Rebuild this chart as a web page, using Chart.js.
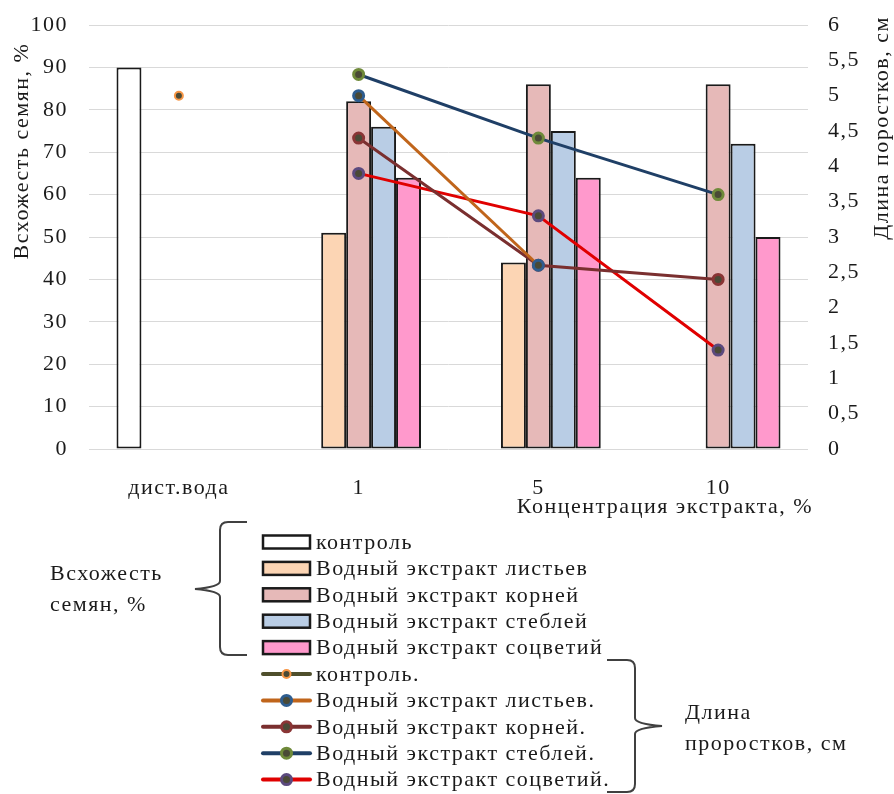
<!DOCTYPE html>
<html lang="ru">
<head>
<meta charset="utf-8">
<title>Всхожесть семян и длина проростков</title>
<script src="https://cdn.jsdelivr.net/npm/chart.js@4/dist/chart.umd.min.js"></script>
<style>
  html, body { margin: 0; padding: 0; background: #ffffff; }
  #wrap { width: 894px; height: 794px; position: relative; }
</style>
</head>
<body>
<div id="wrap"><canvas id="chart" width="894" height="794"></canvas></div>
<script>
// Categories (extract concentration)
const categories = ['дист.вода', '1', '5', '10'];

// Seed germination, % (left axis)
const germControl = [90, null, null, null];
const germLeaves  = [null, 51, 44, null];
const germRoots   = [null, 82, 86, 86];
const germStems   = [null, 76, 75, 72];
const germFlowers = [null, 64, 64, 50];

// Sprout length, cm (right axis)
const lenControl = [5.0, null, null, null];
const lenLeaves  = [null, 5.0, 2.6, null];
const lenRoots   = [null, 4.4, 2.6, 2.4];
const lenStems   = [null, 5.3, 4.4, 3.6];
const lenFlowers = [null, 3.9, 3.3, 1.4];

// Axis ranges
const germTicks = { min: 0, max: 100, step: 10 };
const lenTicks  = { min: 0, max: 6, step: 0.5 };

const FONT = '"Liberation Serif", "Times New Roman", serif';
const FONT_SIZE = 22;
const SPACING = '1.5px';
const TEXT = '#1a1a1a';
const DOT  = '#4a4a36';

function barSet(label, data, fill) {
  return {
    type: 'bar', label, data, yAxisID: 'yL', order: 10,
    backgroundColor: fill, borderColor: '#1a1a1a', borderWidth: 2,
    borderSkipped: false
  };
}
function lineSet(label, data, line, ring, r) {
  return {
    type: 'line', label, data, yAxisID: 'yR', order: 1,
    borderColor: line, borderWidth: 3, backgroundColor: DOT,
    pointBackgroundColor: DOT, pointBorderColor: ring,
    pointBorderWidth: r < 5 ? 2 : 3, pointRadius: r, pointHoverRadius: r,
    tension: 0, spanGaps: false, fill: false
  };
}

const datasets = [
  barSet('контроль', germControl, '#ffffff'),
  barSet('Водный экстракт листьев', germLeaves, '#fcd5b4'),
  barSet('Водный экстракт корней', germRoots, '#e6b9b8'),
  barSet('Водный экстракт стеблей', germStems, '#b9cde5'),
  barSet('Водный экстракт соцветий', germFlowers, '#ff99cc'),
  lineSet('контроль.', lenControl, '#4f4f2c', '#f79646', 4),
  lineSet('Водный экстракт листьев.', lenLeaves, '#c0651b', '#2e5d8f', 5),
  lineSet('Водный экстракт корней.', lenRoots, '#7a2f2f', '#8a3535', 5),
  lineSet('Водный экстракт стеблей.', lenStems, '#1f3f66', '#6f8a3a', 5),
  lineSet('Водный экстракт соцветий.', lenFlowers, '#e00000', '#5b4a7e', 5)
];

// Curly brace: xEdge = open ends, xSpine = vertical stroke, xTip = point
function brace(ctx, xEdge, xSpine, xTip, yTop, yMid, yBot) {
  const r = 8;
  const s = Math.sign(xEdge - xSpine);
  ctx.beginPath();
  ctx.moveTo(xEdge, yTop);
  ctx.lineTo(xSpine + s * r, yTop);
  ctx.quadraticCurveTo(xSpine, yTop, xSpine, yTop + r);
  ctx.lineTo(xSpine, yMid - r);
  ctx.quadraticCurveTo(xSpine, yMid - 2, xTip, yMid);
  ctx.quadraticCurveTo(xSpine, yMid + 2, xSpine, yMid + r);
  ctx.lineTo(xSpine, yBot - r);
  ctx.quadraticCurveTo(xSpine, yBot, xSpine + s * r, yBot);
  ctx.lineTo(xEdge, yBot);
  ctx.stroke();
}

// Wider letter spacing for every text drawn on the canvas
const spacing = {
  id: 'spacing',
  beforeInit(chart) { chart.ctx.letterSpacing = SPACING; },
  beforeDraw(chart) { chart.ctx.letterSpacing = SPACING; }
};

const decorations = {
  id: 'decorations',
  afterDraw(chart) {
    const ctx = chart.ctx;
    ctx.save();
    ctx.letterSpacing = SPACING;
    ctx.fillStyle = TEXT;
    ctx.font = FONT_SIZE + 'px ' + FONT;
    ctx.textBaseline = 'middle';

    // Left axis title, bottom-to-top
    ctx.save();
    ctx.translate(22, 151);
    ctx.rotate(-Math.PI / 2);
    ctx.textAlign = 'center';
    ctx.fillText('Всхожесть семян, %', 0, 0);
    ctx.restore();

    // Right axis title, bottom-to-top
    ctx.save();
    ctx.translate(882, 128);
    ctx.rotate(-Math.PI / 2);
    ctx.textAlign = 'center';
    ctx.fillText('Длина поростков, см', 0, 0);
    ctx.restore();

    // X axis title
    ctx.textAlign = 'center';
    ctx.fillText('Концентрация экстракта, %', 665, 507);

    // Legend
    const x0 = 263, x1 = 310, tx = 316, y0 = 542, dy = 26.4;
    chart.data.datasets.forEach((ds, i) => {
      const y = y0 + i * dy;
      if (ds.type === 'bar') {
        ctx.fillStyle = ds.backgroundColor;
        ctx.fillRect(x0, y - 6.5, x1 - x0, 13);
        ctx.strokeStyle = '#1a1a1a';
        ctx.lineWidth = 2.5;
        ctx.strokeRect(x0, y - 6.5, x1 - x0, 13);
      } else {
        ctx.strokeStyle = ds.borderColor;
        ctx.lineWidth = 4;
        ctx.lineCap = 'round';
        ctx.beginPath();
        ctx.moveTo(x0, y);
        ctx.lineTo(x1, y);
        ctx.stroke();
        ctx.lineCap = 'butt';
        ctx.beginPath();
        ctx.arc((x0 + x1) / 2, y, ds.pointRadius, 0, Math.PI * 2);
        ctx.fillStyle = ds.pointBackgroundColor;
        ctx.fill();
        ctx.lineWidth = ds.pointBorderWidth;
        ctx.strokeStyle = ds.pointBorderColor;
        ctx.stroke();
      }
      ctx.fillStyle = TEXT;
      ctx.textAlign = 'left';
      ctx.fillText(ds.label, tx, y + 1);
    });

    // Group braces and captions
    ctx.strokeStyle = '#404040';
    ctx.lineWidth = 2;
    brace(ctx, 247, 220, 195, 522, 589, 655);
    brace(ctx, 607, 635, 662, 660, 726, 792);

    ctx.fillStyle = TEXT;
    ctx.textAlign = 'left';
    ctx.fillText('Всхожесть', 50, 574);
    ctx.fillText('семян, %', 50, 605);
    ctx.fillText('Длина', 685, 713);
    ctx.fillText('проростков, см', 685, 744);
    ctx.restore();
  }
};

const tickFont = { family: FONT, size: FONT_SIZE };

// Fixed axis box sizes so the plot area sits at 89..808 x 25..449
function fixVertical(width) {
  return scale => {
    scale.width = width;
    scale.paddingTop = 0;
    scale.paddingBottom = 0;
  };
}

new Chart(document.getElementById('chart'), {
  type: 'bar',
  data: { labels: categories, datasets },
  plugins: [spacing, decorations],
  options: {
    responsive: false,
    animation: false,
    events: [],
    layout: { padding: { top: 25, left: 0, right: 0, bottom: 0 } },
    datasets: {
      bar: { categoryPercentage: 0.694, barPercentage: 1.0 }
    },
    plugins: {
      legend: { display: false },
      tooltip: { enabled: false },
      title: { display: false }
    },
    scales: {
      x: {
        grid: { display: false, drawTicks: false },
        border: { display: false },
        ticks: { font: tickFont, color: TEXT, padding: 26, maxRotation: 0 },
        afterFit(scale) {
          scale.height = 345;
          scale.paddingLeft = 0;
          scale.paddingRight = 0;
        }
      },
      yL: {
        position: 'left',
        min: germTicks.min, max: germTicks.max,
        grid: { color: '#d9d9d9', lineWidth: 1, drawTicks: false },
        border: { display: false },
        ticks: { stepSize: germTicks.step, font: tickFont, color: TEXT, padding: 21 },
        afterFit: fixVertical(89)
      },
      yR: {
        position: 'right',
        min: lenTicks.min, max: lenTicks.max,
        grid: { display: false, drawTicks: false },
        border: { display: false },
        ticks: {
          stepSize: lenTicks.step, font: tickFont, color: TEXT, padding: 20,
          callback: v => String(v).replace('.', ',')
        },
        afterFit: fixVertical(86)
      }
    }
  }
});
</script>
</body>
</html>
